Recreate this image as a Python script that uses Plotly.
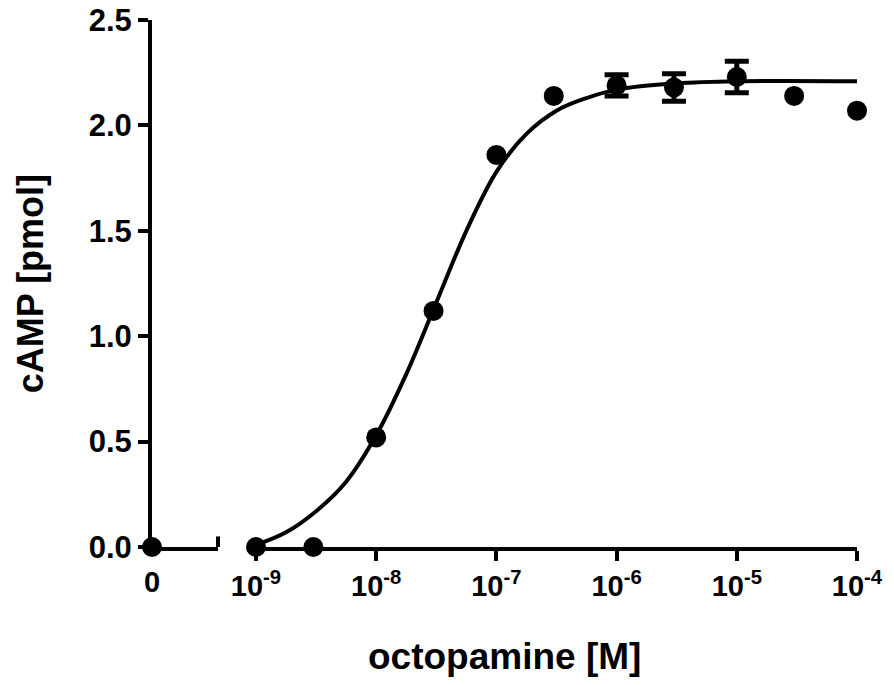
import plotly.graph_objects as go

# octopamine dose-response, cAMP [pmol]
control_x = [0]
control_y = [0.0]

conc = [1e-9, 3e-9, 1e-8, 3e-8, 1e-7, 3e-7, 1e-6, 3e-6, 1e-5, 3e-5, 1e-4]
camp = [0.0, 0.0, 0.52, 1.12, 1.86, 2.14, 2.19, 2.18, 2.23, 2.14, 2.07]
camp_err = [0, 0, 0, 0, 0, 0, 0.05, 0.065, 0.075, 0, 0]

# fitted curve (log10 conc, cAMP)
fit_logc = [-9.0, -8.75, -8.5, -8.25, -8.0, -7.75, -7.5, -7.25, -7.0,
            -6.75, -6.5, -6.25, -6.0, -5.5, -5.0, -4.0]
fit_camp = [0.01, 0.07, 0.17, 0.31, 0.53, 0.82, 1.16, 1.50, 1.78,
            1.96, 2.07, 2.13, 2.17, 2.20, 2.21, 2.21]

y_ticks = [0.0, 0.5, 1.0, 1.5, 2.0, 2.5]
x_tickvals = [1e-9, 1e-8, 1e-7, 1e-6, 1e-5, 1e-4]
x_ticktext = ["10<sup>-9</sup>", "10<sup>-8</sup>", "10<sup>-7</sup>",
              "10<sup>-6</sup>", "10<sup>-5</sup>", "10<sup>-4</sup>"]

FONT = "Liberation Sans"
black = "black"

# points with SEM get error bars, the rest are plain markers
with_err = [i for i, e in enumerate(camp_err) if e > 0]
no_err = [i for i, e in enumerate(camp_err) if e == 0]

fig = go.Figure()

fig.add_trace(go.Scatter(
    x=[10 ** v for v in fit_logc], y=fit_camp, xaxis="x2", yaxis="y",
    mode="lines", line=dict(color=black, width=4, shape="spline"),
    cliponaxis=False, showlegend=False, hoverinfo="skip"))

fig.add_trace(go.Scatter(
    x=[conc[i] for i in no_err], y=[camp[i] for i in no_err],
    xaxis="x2", yaxis="y", mode="markers",
    marker=dict(color=black, size=20), cliponaxis=False, showlegend=False))

fig.add_trace(go.Scatter(
    x=[conc[i] for i in with_err], y=[camp[i] for i in with_err],
    xaxis="x2", yaxis="y", mode="markers",
    marker=dict(color=black, size=20),
    error_y=dict(type="data", array=[camp_err[i] for i in with_err],
                 color=black, thickness=5, width=12),
    cliponaxis=False, showlegend=False))

fig.add_trace(go.Scatter(
    x=control_x, y=control_y, xaxis="x", yaxis="y", mode="markers",
    marker=dict(color=black, size=20), cliponaxis=False, showlegend=False))

# page has an 8px body margin, so the figure is drawn 8px in from the corner
left, right, top, bottom = 144, 37, 12, 138
plot_w = 886 - left - right
seg1_end = (218 - 152) / plot_w
seg2_start = (256 - 152) / plot_w

tick_font = dict(family=FONT, size=29, color=black, weight="bold")

fig.update_layout(
    width=886, height=677,
    margin=dict(l=left, r=right, t=top, b=bottom),
    paper_bgcolor="white", plot_bgcolor="white",
    xaxis=dict(domain=[0, seg1_end], range=[0, 1], anchor="y", automargin=False,
               showline=True, linecolor=black, linewidth=4,
               tickvals=[0], ticktext=["0"], ticks="", ticklen=0,
               ticklabelstandoff=6,
               showgrid=False, zeroline=False, tickfont=tick_font),
    xaxis2=dict(domain=[seg2_start, 1], type="log", range=[-9, -3.9999],
                anchor="y", automargin=False,
                showline=True, linecolor=black, linewidth=4,
                tickvals=x_tickvals, ticktext=x_ticktext,
                ticks="outside", ticklen=10, tickwidth=4, tickcolor=black,
                ticklabeloverflow="allow",
                showgrid=False, zeroline=False, tickfont=tick_font),
    yaxis=dict(range=[0, 2.5002], anchor="x", automargin=False, showline=True,
               linecolor=black, linewidth=4, tickvals=y_ticks, tickformat=".1f",
               ticks="outside", ticklen=10, tickwidth=4, tickcolor=black,
               ticklabeloverflow="allow",
               showgrid=False, zeroline=False,
               tickfont=dict(family=FONT, size=31, color=black, weight="bold")),
    shapes=[dict(type="line", xref="x domain", yref="y", x0=1, x1=1,
                 y0=-0.05, y1=0.05, line=dict(color=black, width=4))],
    annotations=[
        dict(text="octopamine [M]", xref="paper", yref="paper", x=0.5, y=-0.165,
             xanchor="center", yanchor="top", showarrow=False,
             font=dict(family=FONT, size=37, color=black, weight="bold")),
        dict(text="cAMP [pmol]", xref="paper", yref="paper", x=-0.172, y=0.5,
             xanchor="center", yanchor="middle", textangle=-90, showarrow=False,
             font=dict(family=FONT, size=36, color=black, weight="bold")),
    ],
)

fig.write_html("out.html")
